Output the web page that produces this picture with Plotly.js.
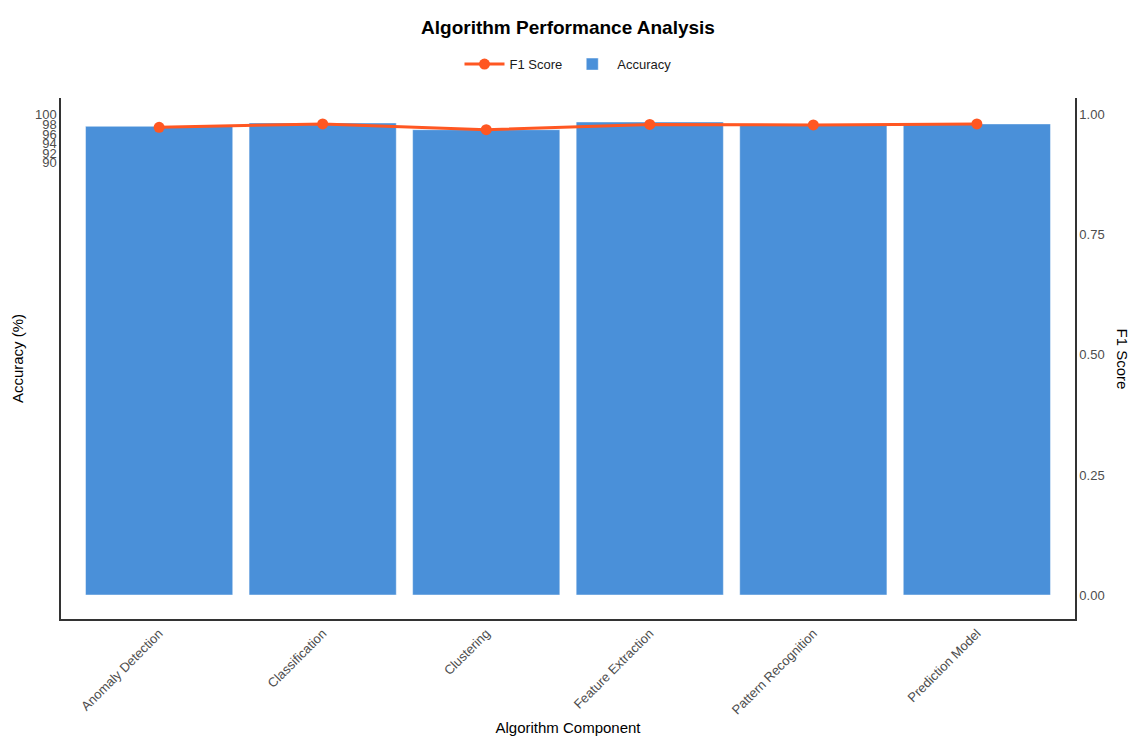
<!DOCTYPE html>
<html>
<head>
<meta charset="utf-8">
<script src="https://cdn.plot.ly/plotly-3.0.1.min.js"></script>
<style>
  html, body { margin: 0; padding: 0; background: #fff; }
  #chart { width: 1131px; height: 736px; }
</style>
</head>
<body>
<div id="chart"></div>
<script>
// Algorithm components and their scores
const components = ["Anomaly Detection", "Classification", "Clustering", "Feature Extraction", "Pattern Recognition", "Prediction Model"];
const accuracy = [97.6, 98.3, 96.9, 98.5, 98.0, 98.1];
const f1Score = [0.974, 0.981, 0.969, 0.980, 0.979, 0.981];
const accuracyTicks = [90, 92, 94, 96, 98, 100];
const f1Ticks = [0, 0.25, 0.5, 0.75, 1.0];

const fontFamily = '"Liberation Sans", Arial, Helvetica, sans-serif';

const barTrace = {
  type: 'bar',
  name: 'Accuracy',
  x: components,
  y: accuracy,
  width: 0.9,
  marker: { color: '#4a90d9', line: { color: 'rgba(255,255,255,0.45)', width: 1 } },
  yaxis: 'y',
  hovertemplate: '%{x}<br>Accuracy: %{y:.1f}%<extra></extra>'
};

const lineTrace = {
  type: 'scatter',
  mode: 'lines+markers',
  name: 'F1 Score',
  x: components,
  y: f1Score,
  yaxis: 'y2',
  line: { color: '#ff5722', width: 3 },
  marker: { color: '#ff5722', size: 11 },
  hovertemplate: '%{x}<br>F1: %{y:.3f}<extra></extra>'
};

const layout = {
  width: 1131,
  height: 736,
  paper_bgcolor: '#ffffff',
  plot_bgcolor: '#ffffff',
  font: { family: fontFamily, color: '#000' },
  margin: { l: 61, r: 56, t: 98, b: 117 },
  title: {
    text: '<b>Algorithm Performance Analysis</b>',
    x: 0.5, xref: 'paper', xanchor: 'center',
    y: 0.963, yref: 'container', yanchor: 'middle',
    font: { size: 19, color: '#000', family: fontFamily }
  },
  showlegend: true,
  legend: {
    orientation: 'h',
    x: 0.5, xanchor: 'center',
    y: 1.065, yanchor: 'middle',
    font: { size: 13, color: '#1a1a1a' },
    itemwidth: 40,
    traceorder: 'normal'
  },
  bargap: 0.1,
  xaxis: {
    type: 'category',
    range: [-0.6, 5.6],
    showline: true, linecolor: '#333', linewidth: 1.5,
    showgrid: false, zeroline: false,
    ticks: '',
    tickangle: -45,
    tickfont: { size: 13, color: '#4d4d4d' },
    title: { text: 'Algorithm Component', font: { size: 15, color: '#000' }, standoff: 8 }
  },
  yaxis: {
    range: [-5, 103.5],
    tickvals: accuracyTicks,
    ticktext: accuracyTicks.map(String),
    showline: true, linecolor: '#333', linewidth: 1.5,
    showgrid: false, zeroline: false,
    ticks: '',
    tickfont: { size: 13, color: '#4d4d4d' },
    title: { text: 'Accuracy (%)', font: { size: 15, color: '#000' }, standoff: 8 }
  },
  yaxis2: {
    overlaying: 'y',
    side: 'right',
    range: [-0.05, 1.035],
    tickvals: f1Ticks,
    ticktext: f1Ticks.map(v => v.toFixed(2)),
    showline: true, linecolor: '#333', linewidth: 1.5,
    showgrid: false, zeroline: false,
    ticks: '',
    tickfont: { size: 13, color: '#4d4d4d' }
  },
  annotations: [{
    text: 'F1 Score',
    xref: 'paper', yref: 'paper',
    x: 1, xshift: 47, xanchor: 'center',
    y: 0.5, yanchor: 'middle',
    textangle: 90,
    showarrow: false,
    font: { size: 15, color: '#000' }
  }]
};

Plotly.newPlot('chart', [lineTrace, barTrace], layout, { displayModeBar: false, responsive: false });
</script>
</body>
</html>
